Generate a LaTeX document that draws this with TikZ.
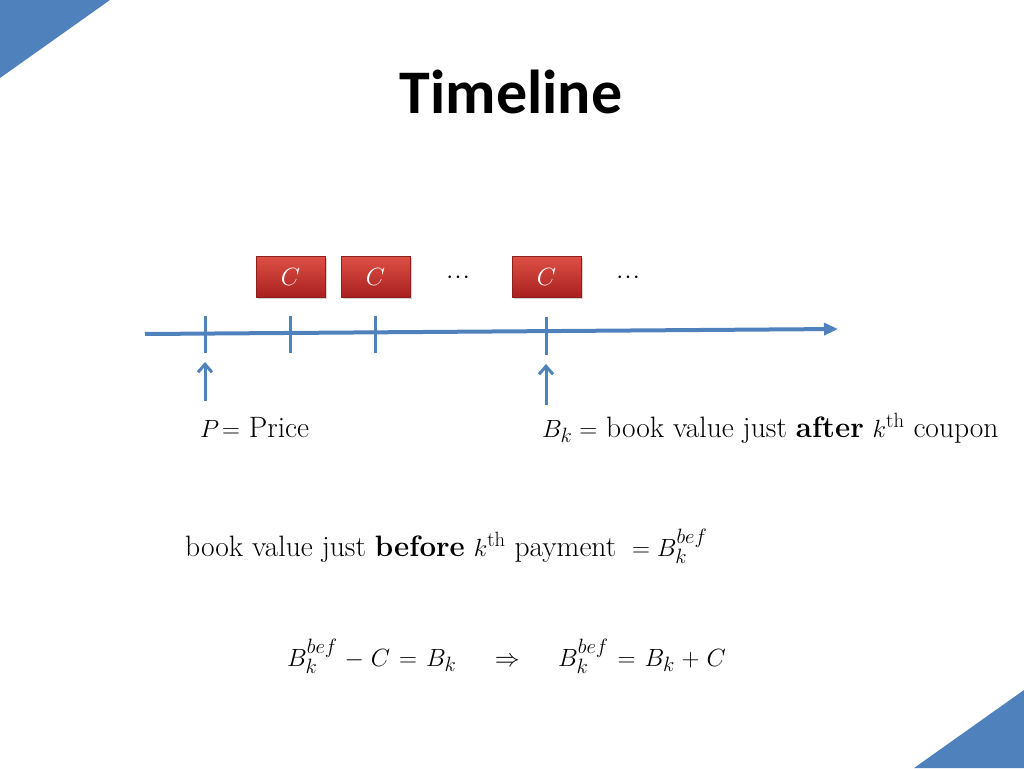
\documentclass[tikz,border=0pt]{standalone}
\usepackage{fontspec}
\newfontfamily\titlefont{Carlito}
\usetikzlibrary{arrows.meta,shadows}
\definecolor{slateblue}{RGB}{79,129,189}
\definecolor{boxtop}{RGB}{222,80,70}
\definecolor{boxbot}{RGB}{168,32,30}
\definecolor{boxedge}{RGB}{140,30,28}
\tikzset{
  corner/.style={fill=slateblue, draw=none},
  cbox/.style={rectangle, minimum width=69pt, minimum height=41pt, top color=boxtop, bottom color=boxbot, draw=boxedge, line width=0.8pt, text=white, font=\fontsize{27}{30}\selectfont, drop shadow={shadow xshift=1.5pt, shadow yshift=-1.5pt, opacity=0.35}},
  axis/.style={draw=slateblue, line width=4pt, -{Triangle[length=14pt,width=12pt]}},
  tick/.style={draw=slateblue, line width=3pt},
  uparrow/.style={draw=slateblue, line width=3pt, -{Straight Barb[length=8pt,width=14pt]}},
  body/.style={font=\fontsize{29.5}{33}\selectfont, inner sep=0pt},
  dots/.style={font=\fontsize{27}{30}\selectfont, inner sep=0pt}
}
\begin{document}
\begin{tikzpicture}[x=1pt,y=-1pt]
\useasboundingbox (0,0) rectangle (1024,768);
% corner triangles
\fill[corner] (0,0) -- (110,0) -- (0,78) -- cycle;
\fill[corner] (1024,690) -- (1024,768) -- (914,768) -- cycle;
% title
\node[font=\titlefont\bfseries\fontsize{62}{70}\selectfont, inner sep=0pt] (title) at (511,92) {Timeline};
% coupon boxes
\node[cbox] (c1) at (290.5,276.5) {$C$};
\node[cbox] (c2) at (375.5,276.5) {$C$};
\node[cbox] (c3) at (546.5,276.5) {$C$};
\node[dots] (d1) at (458,278) {$\cdot\!\cdot\!\cdot$};
\node[dots] (d2) at (628,278) {$\cdot\!\cdot\!\cdot$};
% axis
\coordinate (a0) at (145,334);
\coordinate (a1) at (838,329);
\draw[axis] (a0) -- (a1);
\coordinate (t0a) at (205,316); \coordinate (t0b) at (205,353);
\coordinate (t1a) at (290,316); \coordinate (t1b) at (290,353);
\coordinate (t2a) at (375,316); \coordinate (t2b) at (375,353);
\coordinate (t3a) at (546,317); \coordinate (t3b) at (546,355);
\draw[tick] (t0a) -- (t0b);
\draw[tick] (t1a) -- (t1b);
\draw[tick] (t2a) -- (t2b);
\draw[tick] (t3a) -- (t3b);
% pointer arrows
\coordinate (p0s) at (205,401); \coordinate (p0e) at (205,362);
\coordinate (p1s) at (546,405); \coordinate (p1e) at (546,364);
\draw[uparrow] (p0s) -- (p0e);
\draw[uparrow] (p1s) -- (p1e);
% labels
\node[body, anchor=base west] (lp) at (200,437) {$P\!=$ Price};
\node[body, anchor=base west] (lb) at (542,437) {$B_k =$ book value just \textbf{after} $k^{\mathrm{th}}$ coupon};
\node[body, anchor=base west] (lbef) at (185,556) {book value just \textbf{before} $k^{\mathrm{th}}$ payment $\;= B_k^{bef}$};
\node[body, anchor=base west] (leq) at (287,666) {\thickmuskip=6.5mu\medmuskip=5mu$B_k^{bef} - C = B_k \quad\Rightarrow\quad B_k^{bef} = B_k + C$};
\end{tikzpicture}
\end{document}
